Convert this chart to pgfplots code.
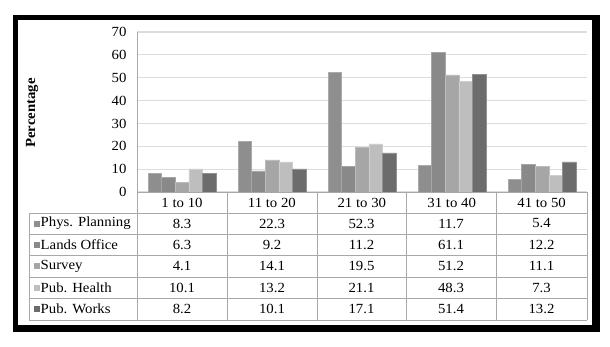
\documentclass[border=0pt]{standalone}
\usepackage{pgfplots}
\usepackage{pgfplotstable}
\pgfplotsset{compat=1.18}
\usepackage{fontspec}
\setmainfont{Liberation Serif}[FakeStretch=1.06]
\definecolor{cPP}{HTML}{8E8E8E}
\definecolor{cLO}{HTML}{898989}
\definecolor{cSV}{HTML}{A6A6A6}
\definecolor{cPH}{HTML}{BEBEBE}
\definecolor{cPW}{HTML}{6C6C6C}
\definecolor{tline}{HTML}{A8A8A8}
\definecolor{gline}{HTML}{DCDCDC}
\pgfplotstableread{
cat PP LO SV PH PW
0 8.3 6.3 4.1 10.1 8.2
1 22.3 9.2 14.1 13.2 10.1
2 52.3 11.2 19.5 21.1 17.1
3 11.7 61.1 51.2 48.3 51.4
4 5.4 12.2 11.1 7.3 13.2
}\datatab
\begin{document}
\begin{tikzpicture}[x=1bp,y=1bp,font=\fontsize{14}{16}\selectfont]
\fill[white] (0,0) rectangle (610,346);
\fill[black] (13,14) rectangle (600,331);
\fill[white] (18,21) rectangle (592,326);
\begin{axis}[
  at={(137bp,154bp)}, anchor=south west,
  width=450bp, height=160bp, scale only axis,
  xmin=-0.5, xmax=4.5, ymin=0, ymax=70,
  ytick={0,10,...,70},
  xtick=\empty,
  ybar=0pt, bar width=13.6bp,
  axis line style={draw=none},
  ymajorgrids, grid style={gline, line width=1.2bp},
  major tick length=0pt,
  /pgf/number format/assume math mode=true,
  yticklabel style={font=\fontsize{14}{16}\selectfont, xshift=-7bp},
  clip=false,
]
\addplot[fill=cPP, draw=cPP!75!white, line width=0.5bp] table[x=cat,y=PP]{\datatab};
\addplot[fill=cLO, draw=cLO!75!white, line width=0.5bp] table[x=cat,y=LO]{\datatab};
\addplot[fill=cSV, draw=cSV!75!white, line width=0.5bp] table[x=cat,y=SV]{\datatab};
\addplot[fill=cPH, draw=cPH!75!white, line width=0.5bp] table[x=cat,y=PH]{\datatab};
\addplot[fill=cPW, draw=cPW!75!white, line width=0.5bp] table[x=cat,y=PW]{\datatab};
\end{axis}
% table lines
\draw[tline, line width=1bp] (137,314) -- (137,26);
\draw[tline, line width=1bp] (137,154) -- (587,154);
\foreach \yy in {133,112,90.5,69,47.5,26} {\draw[tline, line width=1bp] (29,\yy) -- (587,\yy);}
\draw[tline, line width=1bp] (29,133) -- (29,26);
\foreach \xx in {227,317,406,496,587} {\draw[tline, line width=1bp] (\xx,154) -- (\xx,26);}
% header
\foreach \lab [count=\i from 0] in {1 to 10,11 to 20,21 to 30,31 to 40,41 to 50}
  {\node at ({182+89.9*\i},143.5) {\lab};}
% legend column
\foreach \nm/\cc/\yy in {Phys. Planning/cPP/122.5, Lands Office/cLO/101.2, Survey/cSV/79.8, Pub. Health/cPH/58.3, Pub. Works/cPW/36.8}
  {\fill[\cc] (33.5,\yy-3) rectangle (39.5,\yy+3);
   \node[anchor=west, inner sep=0pt] at (40.5,\yy) {\nm};}
% values
\foreach \a/\b/\c/\d/\e [count=\r from 0] in {8.3/22.3/52.3/11.7/5.4, 6.3/9.2/11.2/61.1/12.2, 4.1/14.1/19.5/51.2/11.1, 10.1/13.2/21.1/48.3/7.3, 8.2/10.1/17.1/51.4/13.2}
  {\pgfmathsetmacro{\yy}{122.5-21.4*\r}
   \node at (182,\yy) {\a};
   \node at (272,\yy) {\b};
   \node at (361.5,\yy) {\c};
   \node at (451,\yy) {\d};
   \node at (541.5,\yy) {\e};}
\node[rotate=90, font=\fontsize{14}{16}\selectfont\bfseries] at (32,233) {Percentage};
\end{tikzpicture}
\end{document}
